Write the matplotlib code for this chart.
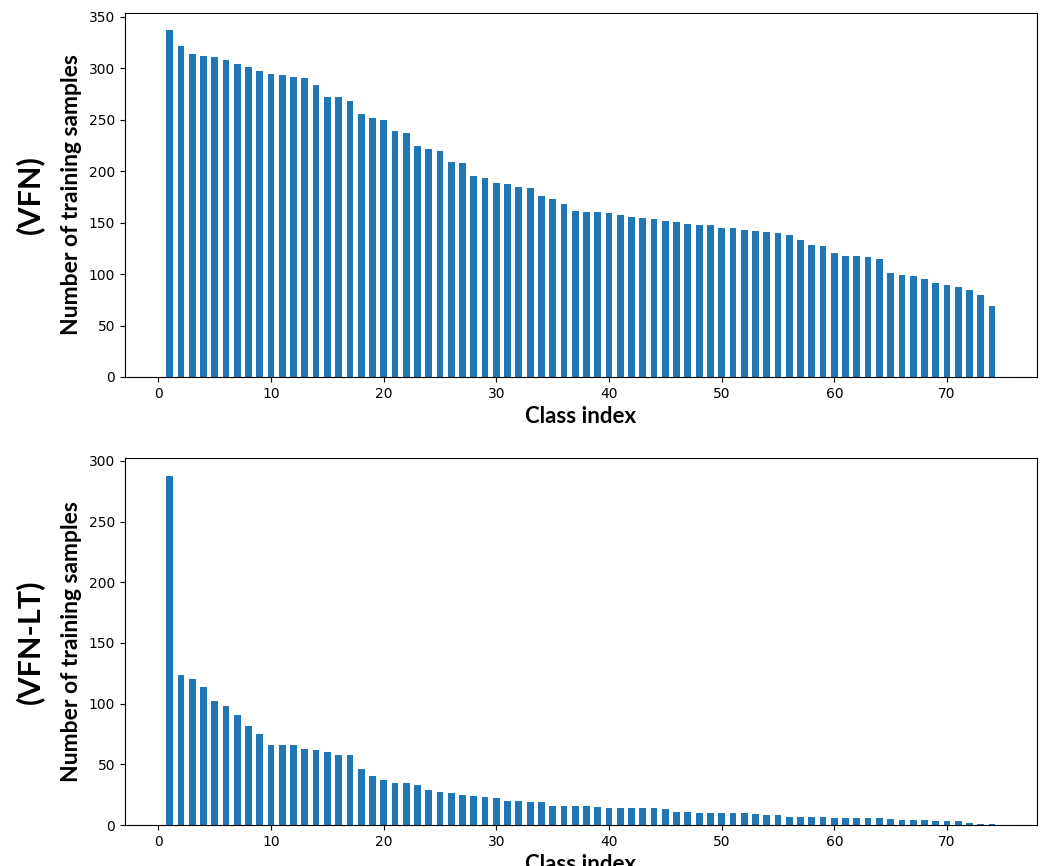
import numpy as np
import matplotlib.pyplot as plt

# 各类别的训练样本数 (VFN)
vfn_counts = [337, 322, 314, 312, 311, 308, 304, 301, 297, 295,
              294, 292, 291, 284, 272, 272, 268, 256, 252, 250,
              239, 237, 225, 222, 220, 209, 208, 195, 193, 189,
              188, 185, 184, 176, 173, 168, 161, 160, 160, 159,
              157, 156, 155, 154, 152, 151, 149, 148, 148, 145,
              145, 143, 142, 141, 140, 138, 133, 128, 127, 121,
              118, 118, 117, 115, 101, 99, 98, 95, 91, 89,
              87, 85, 80, 69]

# 长尾版本 (VFN-LT)
vfn_lt_counts = [288, 124, 120, 114, 102, 98, 91, 82, 75, 66,
                 66, 66, 63, 62, 60, 58, 58, 46, 40, 37,
                 35, 35, 33, 29, 27, 26, 25, 24, 23, 22,
                 20, 20, 19, 19, 16, 16, 16, 16, 15, 14,
                 14, 14, 14, 14, 13, 11, 11, 10, 10, 10,
                 10, 10, 9, 8, 8, 7, 7, 7, 7, 6,
                 6, 6, 6, 6, 5, 4, 4, 4, 3, 3,
                 3, 2, 1, 1]

panel_names = ['(VFN)', '(VFN-LT)']


def draw_panel(ax, counts, name):
    idx = np.arange(1, len(counts) + 1)
    ax.bar(idx, counts, width=0.6, color='#1f77b4')
    ax.set_xlabel('Class index', fontsize=16, fontweight='bold', family='Lato')
    ax.set_ylabel('Number of training samples', fontsize=16.5,
                  fontweight='bold', family='Lato', labelpad=5)
    ax.text(-0.104, 0.5, name, transform=ax.transAxes, rotation=90,
            ha='center', va='center', fontsize=22, fontweight='bold',
            family='Lato')


def main():
    fig = plt.figure(figsize=(10.4, 8.66), dpi=100)
    ax1 = fig.add_axes([0.120, 0.5647, 0.877, 0.4203])
    ax2 = fig.add_axes([0.120, 0.0473, 0.877, 0.4238])

    draw_panel(ax1, vfn_counts, panel_names[0])
    draw_panel(ax2, vfn_lt_counts, panel_names[1])

    fig.savefig('out.png', dpi=100)


if __name__ == "__main__":
    main()
